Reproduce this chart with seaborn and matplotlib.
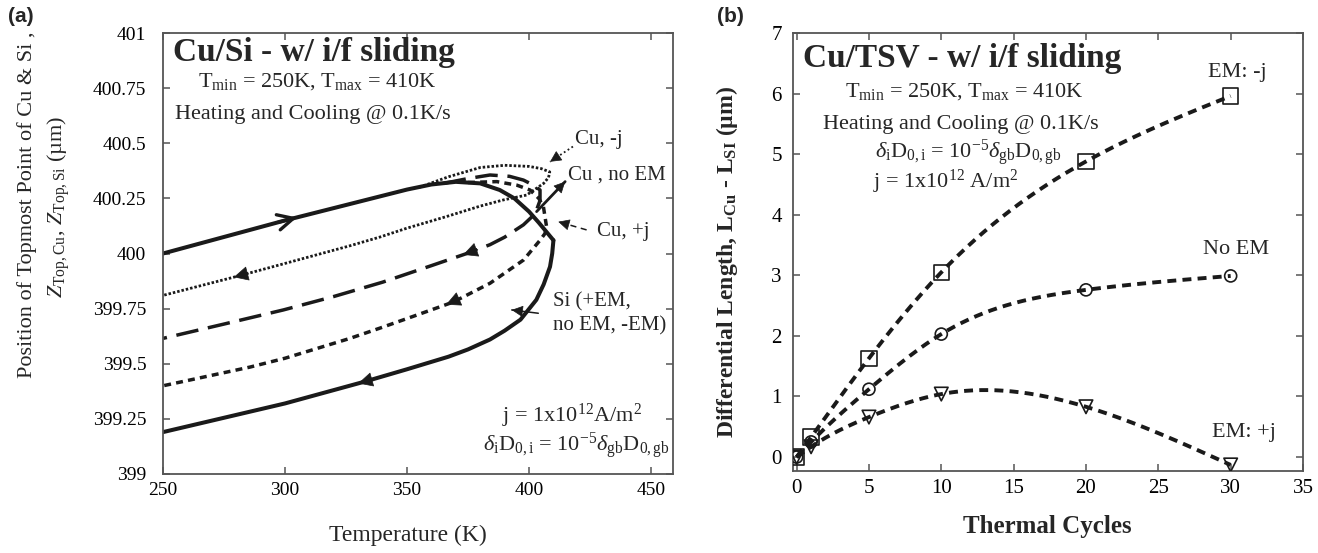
import numpy as np
import matplotlib
matplotlib.use("Agg")
import matplotlib.pyplot as plt
import seaborn as sns

# ---------------- data: panel (a) ----------------
heat_T = [250, 275, 300, 325, 340, 350, 360, 370, 380, 388, 394, 400, 404, 407, 410]
heat_Z = [400.00, 400.075, 400.15, 400.22, 400.262, 400.29, 400.313, 400.325, 400.318,
          400.288, 400.25, 400.19, 400.14, 400.10, 400.06]

si_cool_T = [410, 409.5, 408.6, 406, 403, 396.5, 390, 384, 375, 367, 350, 333, 300, 275, 250]
si_cool_Z = [400.06, 400.0, 399.94, 399.86, 399.79, 399.70, 399.65, 399.61, 399.565,
             399.532, 399.475, 399.42, 399.32, 399.255, 399.19]

cuneg_T = [355, 367, 380, 390, 400, 405, 408.5, 408, 406, 399, 389.5, 380, 366, 350, 339,
           326.6, 300, 281.6, 250]
cuneg_Z = [400.30, 400.348, 400.39, 400.40, 400.395, 400.385, 400.37, 400.345, 400.318,
           400.265, 400.243, 400.215, 400.167, 400.115, 400.075, 400.035, 399.955, 399.90, 399.81]

cunoem_T = [365, 375, 384, 392, 397.7, 401.8, 404.5, 404.5, 402.5, 397.7, 390, 384, 374.5,
            360, 340, 320, 299.3, 275, 250]
cunoem_Z = [400.318, 400.34, 400.356, 400.35, 400.333, 400.31, 400.288, 400.24, 400.18,
            400.13, 400.074, 400.04, 400.0, 399.945, 399.87, 399.805, 399.744, 399.68, 399.615]

cupos_T = [375, 386.8, 395, 400.4, 404, 405.9, 407.2, 406.5, 404.5, 397.7, 384, 369, 350,
           339, 326.6, 300, 285.7, 250]
cupos_Z = [400.322, 400.326, 400.31, 400.288, 400.25, 400.212, 400.12, 400.09, 400.06,
           399.97, 399.865, 399.78, 399.705, 399.662, 399.615, 399.525, 399.485, 399.40]

xticks_a = [250, 300, 350, 400, 450]
yticks_a = [399, 399.25, 399.5, 399.75, 400, 400.25, 400.5, 400.75, 401]
yticklabels_a = ["399", "399.25", "399.5", "399.75", "400", "400.25", "400.5", "400.75", "401"]

# ---------------- data: panel (b) ----------------
cycles = [0, 1, 5, 10, 20, 30]
em_neg = [0.0, 0.33, 1.63, 3.05, 4.88, 5.96]
no_em = [0.0, 0.25, 1.12, 2.03, 2.76, 2.99]
em_pos = [0.0, 0.17, 0.66, 1.04, 0.83, -0.13]
xticks_b = [0, 5, 10, 15, 20, 25, 30, 35]
yticks_b = [0, 1, 2, 3, 4, 5, 6, 7]

# ---------------- style ----------------
sns.set_theme(style="ticks")
plt.rcParams["font.family"] = ["Liberation Serif", "DejaVu Serif"]
plt.rcParams["mathtext.fontset"] = "custom"
plt.rcParams["mathtext.rm"] = "Liberation Serif"
plt.rcParams["mathtext.it"] = "Liberation Serif:italic"
plt.rcParams["mathtext.bf"] = "Liberation Serif:bold"

W, H = 1318, 553
fig = plt.figure(figsize=(W / 100, H / 100), dpi=100)
fig.patch.set_facecolor("white")


def ftext(px, py, s, **kw):
    return fig.text(px / W, 1 - py / H, s, **kw)


def natural_spline(x, y, n=300):
    x = np.asarray(x, float)
    y = np.asarray(y, float)
    m = len(x)
    h = np.diff(x)
    A = np.zeros((m, m))
    r = np.zeros(m)
    A[0, 0] = A[-1, -1] = 1
    for i in range(1, m - 1):
        A[i, i - 1] = h[i - 1]
        A[i, i] = 2 * (h[i - 1] + h[i])
        A[i, i + 1] = h[i]
        r[i] = 6 * ((y[i + 1] - y[i]) / h[i] - (y[i] - y[i - 1]) / h[i - 1])
    M = np.linalg.solve(A, r)
    xs = np.linspace(x[0], x[-1], n)
    idx = np.clip(np.searchsorted(x, xs) - 1, 0, m - 2)
    x0, x1 = x[idx], x[idx + 1]
    hh = x1 - x0
    a = (x1 - xs) / hh
    b = (xs - x0) / hh
    ys = a * y[idx] + b * y[idx + 1] + ((a ** 3 - a) * M[idx] + (b ** 3 - b) * M[idx + 1]) * hh ** 2 / 6
    return xs, ys


def style_axes(ax):
    for sp in ax.spines.values():
        sp.set_color("#555555")
        sp.set_linewidth(1.3)
    ax.tick_params(direction="in", top=True, right=True, length=5, width=1.1,
                   color="#555555", labelcolor="black")


# ================= panel (a) =================
ax = fig.add_axes([163 / W, 1 - 474 / H, (673 - 163) / W, (474 - 33) / H])
ax.set_facecolor("white")

sns.lineplot(x=cuneg_T, y=cuneg_Z, sort=False, estimator=None, ax=ax, color="k",
             lw=2.0, linestyle=(0, (0.9, 0.7)))
sns.lineplot(x=cunoem_T, y=cunoem_Z, sort=False, estimator=None, ax=ax, color="k",
             lw=2.5, linestyle=(0, (6.5, 2.8)))
sns.lineplot(x=cupos_T, y=cupos_Z, sort=False, estimator=None, ax=ax, color="k",
             lw=2.5, linestyle=(0, (2.0, 1.5)))
sns.lineplot(x=heat_T, y=heat_Z, sort=False, estimator=None, ax=ax, color="k", lw=2.9)
sns.lineplot(x=si_cool_T, y=si_cool_Z, sort=False, estimator=None, ax=ax, color="k", lw=2.9)


def zint(Ts, Zs, t):
    Ts = np.asarray(Ts)
    Zs = np.asarray(Zs)
    o = np.argsort(Ts)
    return float(np.interp(t, Ts[o], Zs[o]))


# direction arrowheads on curves
ax.annotate("", xy=(306, zint(heat_T, heat_Z, 306)), xytext=(296, zint(heat_T, heat_Z, 296)),
            arrowprops=dict(arrowstyle="->", lw=2.4, color="k", mutation_scale=28))
for (Ts, Zs, t) in [(cuneg_T[9:], cuneg_Z[9:], 279),
                    (cunoem_T[9:], cunoem_Z[9:], 373),
                    (cupos_T[9:], cupos_Z[9:], 366),
                    (si_cool_T[6:], si_cool_Z[6:], 330)]:
    ax.annotate("", xy=(t, zint(Ts, Zs, t)), xytext=(t + 6, zint(Ts, Zs, t + 6)),
                arrowprops=dict(arrowstyle="-|>", lw=0.5, color="k", fc="k",
                                mutation_scale=24, shrinkA=0, shrinkB=0))

# label pointer arrows
pointers = [((418.0, 400.485), (408.6, 400.416), (0, (1, 1.5)), 1.3),
            ((403.1, 400.19), (414.8, 400.326), "-", 2.0),
            ((423.6, 400.107), (412.0, 400.144), (0, (4, 3)), 1.1),
            ((403.8, 399.729), (392.9, 399.744), "-", 1.1)]
for (p0, p1, ls, lw) in pointers:
    ax.plot([p0[0], p1[0]], [p0[1], p1[1]], color="k", lw=lw, linestyle=ls)
    d = (p1[0] - p0[0], p1[1] - p0[1])
    back = (p1[0] - 0.25 * d[0], p1[1] - 0.25 * d[1])
    ax.annotate("", xy=p1, xytext=back,
                arrowprops=dict(arrowstyle="-|>", lw=0.5, color="k", fc="k",
                                mutation_scale=18, shrinkA=0, shrinkB=0))

lab_kw = dict(fontsize=15, ha="left", va="center")
ax.text(418.9, 400.515, "Cu, -j", **lab_kw)
ax.text(416.0, 400.356, "Cu , no EM", **lab_kw)
ax.text(427.9, 400.098, "Cu, +j", **lab_kw)
ax.text(409.8, 399.78, "Si (+EM,", **lab_kw)
ax.text(409.8, 399.67, "no EM, -EM)", **lab_kw)

ax.set_xlim(250, 459)
ax.set_ylim(399, 401)
ax.set_xticks(xticks_a)
ax.set_yticks(yticks_a)
ax.set_yticklabels(yticklabels_a)
ax.set_xlabel("")
ax.set_ylabel("")
style_axes(ax)
ax.tick_params(axis="y", labelsize=14, pad=12)
ax.tick_params(axis="x", labelsize=14, pad=6)

ftext(173, 53, "Cu/Si - w/ i/f sliding", fontsize=24, fontweight="bold", ha="left", va="center")
ftext(198, 82, r"T$_{\mathrm{min}}$ = 250K, T$_{\mathrm{max}}$ = 410K", fontsize=16,
      ha="left", va="center")
ftext(175, 114, "Heating and Cooling @ 0.1K/s", fontsize=16, ha="left", va="center")
ftext(502, 416, r"j = 1x10$^{12}$A/m$^{2}$", fontsize=16, ha="left", va="center")
ftext(483, 446, r"$\delta_{\mathrm{i}}\mathrm{D}_{\mathrm{0,i}}$ = 10$^{\mathrm{-5}}$"
      r"$\delta_{\mathrm{gb}}\mathrm{D}_{\mathrm{0,gb}}$", fontsize=16, ha="left", va="center")

ftext(27, 205, "Position of Topmost Point of Cu & Si ,", fontsize=16, rotation=90,
      ha="center", va="center")
ftext(59, 207, r"$Z_{\mathrm{Top,Cu}}$, $Z_{\mathrm{Top,Si}}$ (µm)", fontsize=16, rotation=90,
      ha="center", va="center")
ftext(408, 535, "Temperature (K)", fontsize=17, ha="center", va="center")
ftext(8, 17, "(a)", fontsize=15, fontweight="bold", family="Liberation Sans",
      ha="left", va="center")

# ================= panel (b) =================
bx = fig.add_axes([793 / W, 1 - 471 / H, (1303 - 793) / W, (471 - 33) / H])
bx.set_facecolor("white")

for vals in (em_neg, no_em, em_pos):
    xs, ys = natural_spline(cycles, vals)
    sns.lineplot(x=xs, y=ys, sort=False, estimator=None, ax=bx, color="k", lw=2.8,
                 linestyle=(0, (2.3, 1.6)))

sns.scatterplot(x=cycles, y=em_neg, marker="s", s=120, facecolors="none", edgecolors="k",
                linewidth=1.2, ax=bx, zorder=5)
sns.scatterplot(x=cycles, y=no_em, marker="o", s=75, facecolors="none", edgecolors="k",
                linewidth=1.2, ax=bx, zorder=5)
sns.scatterplot(x=cycles, y=em_pos, marker="v", s=95, facecolors="none", edgecolors="k",
                linewidth=1.2, ax=bx, zorder=5)

bx.set_xlim(-0.25, 35)
bx.set_ylim(-0.23, 7)
bx.set_xticks(xticks_b)
bx.set_yticks(yticks_b)
bx.set_xlabel("")
bx.set_ylabel("")
style_axes(bx)
bx.tick_params(axis="y", labelsize=15, pad=8)
bx.tick_params(axis="x", labelsize=15, pad=6)

ftext(803, 58, "Cu/TSV - w/ i/f sliding", fontsize=24, fontweight="bold", ha="left", va="center")
ftext(845, 92, r"T$_{\mathrm{min}}$ = 250K, T$_{\mathrm{max}}$ = 410K", fontsize=16,
      ha="left", va="center")
ftext(823, 124, "Heating and Cooling @ 0.1K/s", fontsize=16, ha="left", va="center")
ftext(875, 153, r"$\delta_{\mathrm{i}}\mathrm{D}_{\mathrm{0,i}}$ = 10$^{\mathrm{-5}}$"
      r"$\delta_{\mathrm{gb}}\mathrm{D}_{\mathrm{0,gb}}$", fontsize=16, ha="left", va="center")
ftext(873, 182, r"j = 1x10$^{12}$ A/m$^{2}$", fontsize=16, ha="left", va="center")
ftext(1208, 73, "EM: -j", fontsize=16, ha="left", va="center")
ftext(1203, 250, "No EM", fontsize=16, ha="left", va="center")
ftext(1212, 432, "EM: +j", fontsize=16, ha="left", va="center")

ftext(727, 262, r"Differential Length, L$_{\mathbf{Cu}}$ - L$_{\mathbf{SI}}$ (µm)", fontsize=17,
      fontweight="bold", rotation=90, ha="center", va="center")
ftext(1047, 527, "Thermal Cycles", fontsize=18, fontweight="bold", ha="center", va="center")
ftext(717, 17, "(b)", fontsize=15, fontweight="bold", family="Liberation Sans",
      ha="left", va="center")

fig.savefig("out.png", dpi=100, facecolor="white")
